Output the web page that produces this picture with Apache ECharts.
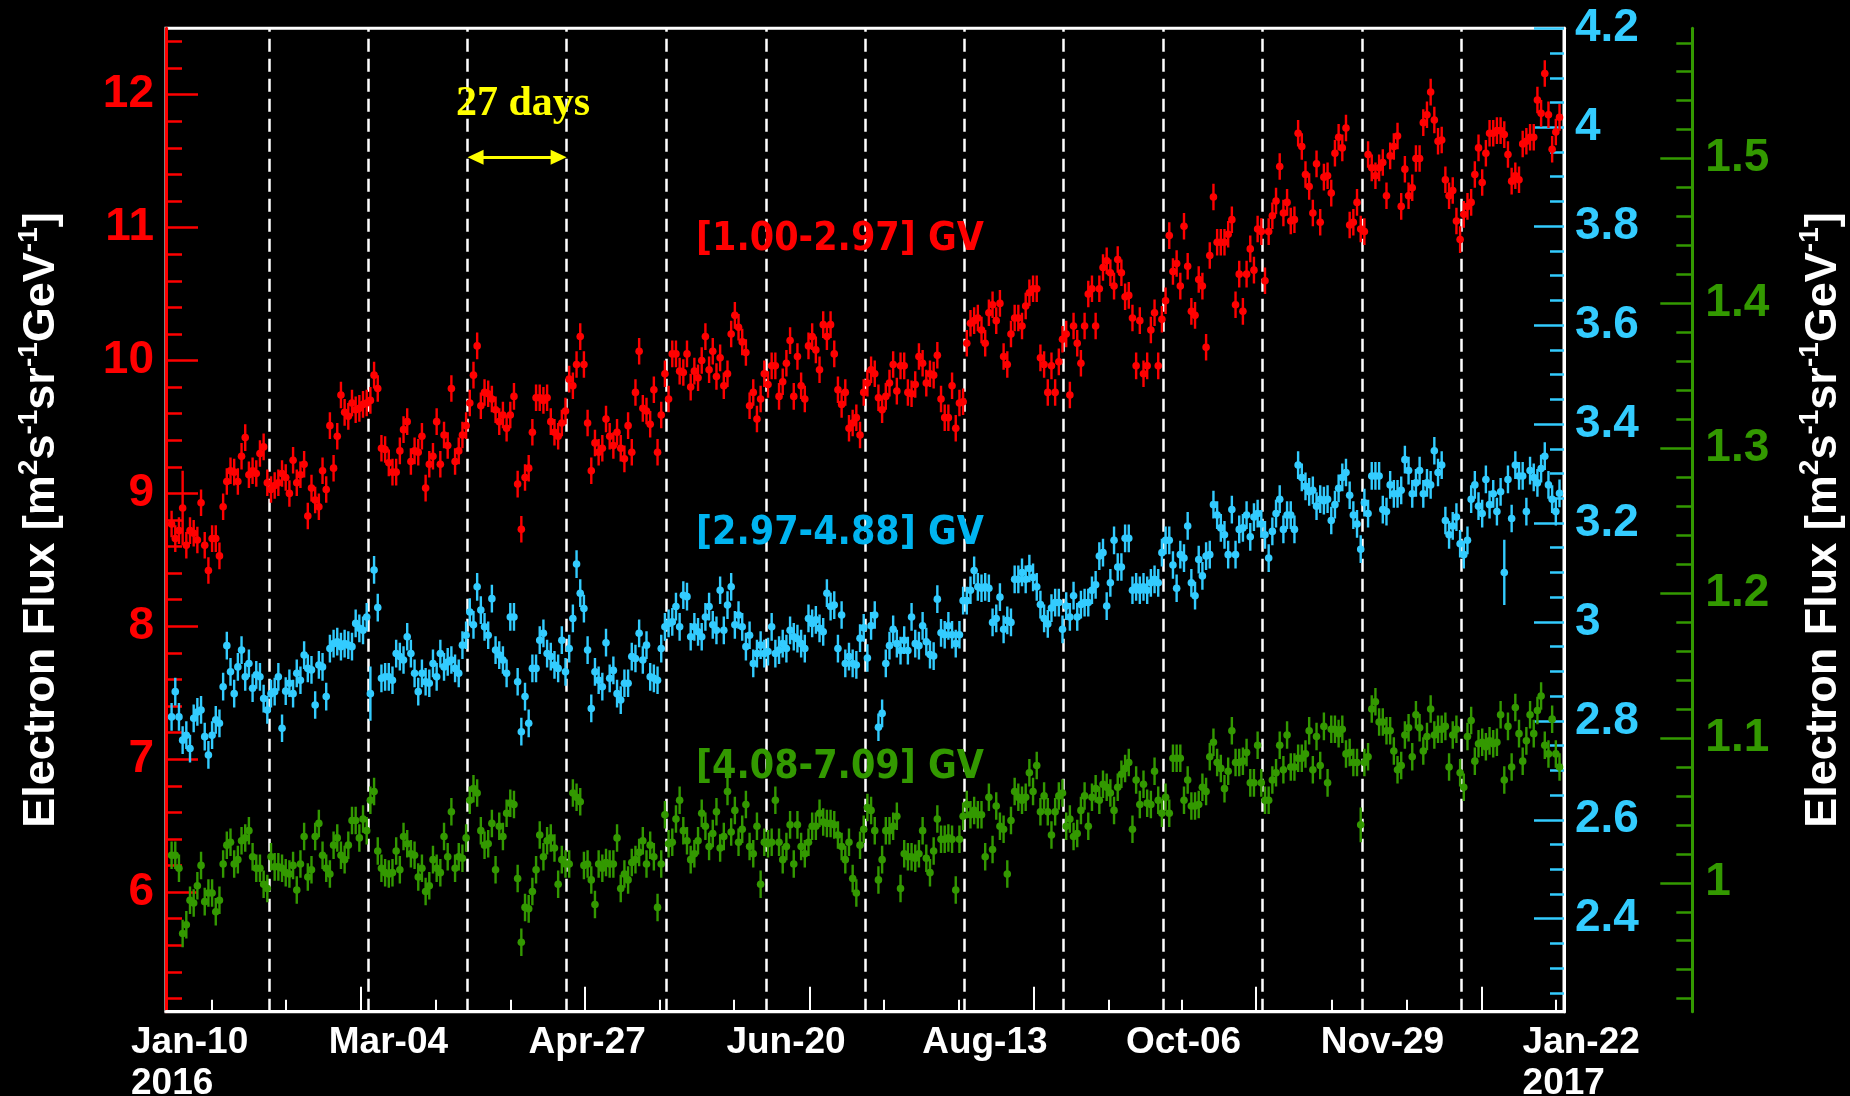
<!DOCTYPE html>
<html><head><meta charset="utf-8">
<script src="https://cdn.jsdelivr.net/npm/echarts@6/dist/echarts.min.js"></script>
<style>html,body{margin:0;padding:0;background:#000}#c{width:1850px;height:1096px}</style>
</head><body><div id="c"></div>
<script>
// ---------------- DATA ----------------
// x values are days counted from 2016-01-10 (the "Jan-10 2016" label); daily points start 2016-01-05
const dayZeroDate = '2016-01-10';
const firstDay = -5;

// [1.00-2.97] GV electron flux (left red axis)
const redFlux = [
8.77,8.66,8.72,8.89,8.61,8.72,8.70,8.65,8.93,8.61,
8.42,8.66,8.66,8.53,8.90,9.09,9.17,9.16,9.09,9.28,
9.42,9.14,9.17,9.15,9.30,9.35,9.08,9.03,9.06,9.08,
9.15,9.12,9.00,9.25,9.08,9.14,9.22,8.83,9.04,8.95,
8.90,9.17,9.03,9.51,9.19,9.43,9.74,9.61,9.58,9.68,
9.63,9.64,9.67,9.68,9.70,9.89,9.79,9.34,9.33,9.23,
9.16,9.16,9.32,9.48,9.54,9.24,9.32,9.31,9.43,9.04,
9.22,9.28,9.54,9.22,9.44,9.36,9.79,9.24,9.32,9.44,
9.51,9.68,9.89,10.11,9.66,9.76,9.75,9.71,9.63,9.54,
9.59,9.49,9.59,9.73,9.07,8.73,9.12,9.19,9.46,9.72,
9.72,9.70,9.72,9.54,9.46,9.43,9.53,9.62,9.86,9.81,
9.97,10.18,9.97,9.53,9.17,9.38,9.31,9.34,9.56,9.43,
9.36,9.46,9.34,9.26,9.51,9.31,9.76,10.07,9.64,9.62,
9.52,9.78,9.31,9.59,9.90,9.71,10.05,10.05,9.92,9.91,
10.05,9.80,9.92,9.87,10.00,10.18,9.93,10.07,9.88,10.02,
9.81,9.90,10.20,10.34,10.25,10.14,10.06,9.66,9.76,9.56,
9.71,9.90,9.82,9.96,9.96,9.73,9.84,9.98,10.15,9.73,
10.03,9.81,9.71,10.11,10.18,10.08,9.93,10.27,10.18,10.27,
10.05,9.78,9.67,9.76,9.49,9.53,9.57,9.44,9.76,9.83,
9.93,9.90,9.72,9.63,9.73,9.83,9.97,9.77,9.96,9.96,
9.76,9.75,9.82,10.03,9.98,9.83,9.90,9.89,10.04,9.71,
9.57,9.57,9.81,9.49,9.68,9.69,10.13,10.28,10.30,10.32,
10.23,10.13,10.36,10.42,10.30,10.43,10.03,9.97,10.20,10.32,
10.32,10.26,10.41,10.51,10.54,10.54,10.02,9.97,9.76,9.96,
9.76,9.99,10.16,10.20,9.74,10.26,10.13,9.98,10.26,10.50,
10.54,10.26,10.54,10.70,10.75,10.66,10.56,10.76,10.66,10.48,
10.49,10.32,9.96,10.30,9.90,9.96,10.23,10.36,9.96,10.31,
10.45,10.94,10.67,10.73,10.56,11.01,10.71,10.37,10.34,10.61,
10.56,10.10,10.79,11.23,10.89,10.89,10.89,10.95,11.06,10.42,
10.65,10.37,10.65,10.84,10.68,10.99,10.97,10.60,10.97,11.09,
11.20,11.46,11.11,11.19,11.05,11.06,11.71,11.61,11.40,11.31,
11.11,11.48,11.04,11.38,11.39,11.26,11.56,11.68,11.60,11.75,
11.02,11.04,11.19,10.99,10.97,11.55,11.45,11.39,11.45,11.49,
11.24,11.54,11.61,11.69,11.16,11.44,11.24,11.30,11.52,11.52,
11.79,11.85,12.02,11.81,11.65,11.66,11.36,11.24,11.28,11.05,
10.91,11.10,11.16,11.19,11.40,11.60,11.34,11.56,11.71,11.71,
11.73,11.73,11.70,11.55,11.35,11.39,11.36,11.63,11.65,11.68,
11.68,11.96,11.86,12.16,11.85,11.59,11.72,11.83];

// [2.97-4.88] GV electron flux (inner right cyan axis)
const cyanFlux = [
2.808,2.859,2.808,2.761,2.771,2.744,2.805,2.818,2.822,2.768,
2.731,2.771,2.802,2.795,2.869,2.952,2.899,2.855,2.909,2.943,
2.889,2.916,2.866,2.893,2.889,2.845,2.822,2.855,2.859,2.889,
2.785,2.860,2.876,2.855,2.896,2.882,2.933,2.906,2.903,2.832,
2.913,2.909,2.849,2.946,2.956,2.960,2.950,2.956,2.953,2.950,
2.997,2.987,2.983,3.010,2.855,3.105,3.029,2.886,2.889,2.889,
2.882,2.936,2.930,2.923,2.970,2.936,2.896,2.859,2.896,2.879,
2.876,2.916,2.889,2.936,2.909,2.919,2.923,2.906,2.896,2.953,
2.973,3.020,2.994,3.071,3.024,2.990,2.973,3.047,2.943,2.933,
2.923,2.896,3.010,3.010,2.879,2.778,2.849,2.795,2.906,2.906,
2.963,2.977,2.936,2.930,2.913,2.906,2.963,2.899,2.946,3.007,
3.117,3.058,3.027,2.943,2.825,2.899,2.882,2.869,2.958,2.886,
2.902,2.855,2.842,2.876,2.876,2.930,2.926,2.977,2.923,2.953,
2.889,2.886,2.882,2.946,2.990,2.997,3.000,3.031,2.990,3.054,
3.051,2.970,2.990,2.980,2.970,3.010,3.031,2.994,2.983,3.064,
2.983,3.034,3.071,2.994,3.014,2.990,2.950,2.973,2.916,2.936,
2.953,2.936,2.940,2.990,2.936,2.943,2.956,2.946,2.983,2.970,
2.966,2.956,2.946,3.007,2.997,3.004,2.987,2.980,3.058,3.031,
3.034,2.946,3.014,2.916,2.930,2.916,2.913,2.967,2.988,2.927,
2.992,3.014,2.787,2.815,2.916,2.952,2.985,2.956,2.942,2.963,
2.942,3.010,2.956,2.952,2.992,2.960,2.934,2.931,3.046,2.978,
2.974,2.992,2.974,2.956,2.974,3.043,3.043,3.064,3.104,3.071,
3.068,3.071,3.068,2.999,3.007,3.050,2.985,3.003,2.999,3.086,
3.086,3.100,3.086,3.108,3.090,3.071,3.035,3.007,2.996,3.028,
3.039,3.039,2.985,3.032,3.010,3.053,3.010,3.035,3.039,3.039,
3.064,3.075,3.133,3.140,3.032,3.079,3.165,3.111,3.111,3.169,
3.169,3.064,3.071,3.064,3.071,3.064,3.079,3.086,3.079,3.140,
3.165,3.165,3.115,3.068,3.136,3.129,3.194,3.079,3.053,3.126,
3.093,3.133,3.136,3.237,3.216,3.190,3.176,3.136,3.227,3.136,
3.187,3.190,3.216,3.172,3.212,3.219,3.198,3.176,3.129,3.183,
3.219,3.248,3.187,3.216,3.216,3.187,3.317,3.292,3.274,3.263,
3.266,3.234,3.248,3.245,3.248,3.205,3.237,3.270,3.292,3.302,
3.256,3.216,3.198,3.147,3.241,3.219,3.295,3.295,3.295,3.227,
3.223,3.277,3.259,3.259,3.266,3.328,3.306,3.259,3.281,3.306,
3.259,3.281,3.277,3.346,3.302,3.317,3.205,3.176,3.194,3.212,
3.158,3.136,3.165,3.248,3.277,3.234,3.219,3.288,3.237,3.259,
3.223,3.263,3.100,3.288,3.209,3.317,3.295,3.295,3.223,3.306,
3.292,3.281,3.310,3.335,3.277,3.248,3.223,3.260];

// [4.08-7.09] GV electron flux (outer right green axis)
const greenFlux = [
1.019,1.019,1.010,0.965,0.971,0.988,0.986,0.998,1.012,0.987,
0.993,0.993,0.980,0.988,1.013,1.026,1.028,1.013,1.016,1.029,
1.031,1.036,1.018,1.010,1.010,0.999,0.996,1.018,1.011,1.011,
1.010,1.007,1.006,1.012,0.995,1.013,1.032,1.004,1.009,1.032,
1.041,1.019,1.010,1.006,1.026,1.031,1.019,1.016,1.026,1.043,
1.043,1.031,1.044,1.036,1.057,1.063,1.022,1.010,1.007,1.006,
1.007,1.022,1.009,1.032,1.027,1.020,1.019,1.004,1.010,0.994,
0.998,1.016,1.010,1.007,1.032,1.018,1.049,1.010,1.018,1.017,
1.031,1.057,1.065,1.062,1.036,1.026,1.027,1.041,1.009,1.039,
1.032,1.048,1.055,1.054,1.003,0.959,0.983,0.982,0.994,1.009,
1.033,1.018,1.029,1.031,1.024,0.999,1.016,1.013,1.013,1.062,
1.059,1.056,1.012,1.013,1.002,0.985,1.013,1.010,1.014,1.013,
1.013,1.031,0.996,1.006,1.002,1.014,1.016,1.021,1.029,1.013,
1.026,1.018,0.983,1.013,1.047,1.027,1.028,1.044,1.057,1.036,
1.029,1.016,1.020,1.029,1.048,1.039,1.025,1.034,1.049,1.024,
1.032,1.063,1.035,1.050,1.028,1.037,1.054,1.025,1.020,1.039,
0.999,1.028,1.027,1.028,1.057,1.028,1.016,1.025,1.040,1.013,
1.040,1.025,1.020,1.028,1.039,1.039,1.048,1.042,1.041,1.041,
1.040,1.033,1.025,1.016,1.028,1.003,0.993,1.026,1.037,1.052,
1.050,1.036,1.002,1.016,1.036,1.036,1.039,1.046,0.996,1.020,
1.018,1.018,1.017,1.020,1.036,1.017,1.007,1.022,1.044,1.030,
1.030,1.031,1.030,0.995,1.030,1.046,1.054,1.047,1.050,1.047,
1.047,1.018,1.059,1.023,1.053,1.039,1.037,1.006,1.043,1.063,
1.059,1.057,1.059,1.076,1.063,1.081,1.049,1.060,1.049,1.033,
1.049,1.060,1.062,1.039,1.044,1.032,1.034,1.050,1.060,1.039,
1.059,1.065,1.057,1.068,1.066,1.062,1.050,1.066,1.075,1.079,
1.083,1.037,1.071,1.054,1.068,1.055,1.054,1.077,1.057,1.048,
1.059,1.048,1.086,1.086,1.086,1.057,1.071,1.053,1.053,1.054,
1.066,1.063,1.087,1.097,1.083,1.079,1.065,1.077,1.105,1.083,
1.083,1.084,1.090,1.069,1.069,1.095,1.069,1.057,1.057,1.071,
1.076,1.095,1.078,1.102,1.080,1.080,1.086,1.086,1.089,1.105,
1.078,1.101,1.081,1.108,1.069,1.106,1.106,1.103,1.106,1.089,
1.090,1.083,1.083,1.040,1.083,1.087,1.120,1.125,1.111,1.111,
1.105,1.105,1.091,1.078,1.081,1.102,1.107,1.087,1.116,1.107,
1.091,1.101,1.120,1.102,1.106,1.106,1.108,1.080,1.102,1.106,
1.076,1.066,1.101,1.112,1.084,1.096,1.097,1.094,1.098,1.096,
1.097,1.116,1.071,1.108,1.080,1.121,1.103,1.084,1.098,1.116,
1.103,1.119,1.129,1.095,1.089,1.113,1.089,1.080];

// typical statistical errors, plus the few visibly larger ones [day, error]
const redErr = 0.10, cyanErr = 0.028, greenErr = 0.0095;
const redWideErr = [[-2, 0.28]];
const cyanWideErr = [[49, 0.055], [357, 0.066]];
const greenWideErr = [[318, 0.012]];

// axes
const xRange = [-6.52, 373.22];
const labelAxisMax = 382;
const xLabelDays = [0, 54, 108, 162, 216, 270, 324, 378];
const xLabelTexts = ['Jan-10\n2016', 'Mar-04', 'Apr-27', 'Jun-20', 'Aug-13', 'Oct-06', 'Nov-29', 'Jan-22\n2017'];
const xMajorTickDays = [46.5, 107.3, 168.4, 229.1, 289.6, 350.8];
const xMinorTickDays = [6.0, 26.1, 66.8, 87.0, 127.6, 147.8, 188.4, 208.7, 249.5, 269.4, 310.0, 330.4, 371.0];
const rotationStartDays = [21.5, 48.5, 75.4, 102.3, 129.4, 156.4, 183.3, 210.3, 237.3, 264.3, 291.3, 318.3, 345.3];

const redRange = [5.1, 12.5];
const cyanRange = [2.212, 4.2];
const greenRange = [0.911, 1.590];
const redTicks = [6, 7, 8, 9, 10, 11, 12];
const cyanTicks = [2.4, 2.6, 2.8, 3, 3.2, 3.4, 3.6, 3.8, 4, 4.2];
const greenTicks = [1, 1.1, 1.2, 1.3, 1.4, 1.5];

const seriesNames = ['[1.00-2.97] GV', '[2.97-4.88] GV', '[4.08-7.09] GV'];
const periodText = '27 days';
const arrowLevel = 11.53; // in red-axis units

// ---------------- STYLE / LAYOUT ----------------
const RED = '#ff0000', CYAN = '#33ccff', CYAN_TXT = '#00b4f0', GREEN = '#339900', YEL = '#ffff00';
const gridLeft = 166, gridTop = 28.3, gridW = 1398, gridH = 983.4;
const pxPerDay = gridW / (xRange[1] - xRange[0]);
const tickFont = 'Liberation Sans';
const xFont = '"Liberation Sans", Arial, sans-serif';
const xFontSize = 37;
const annFont = 'bold 39px "DejaVu Sans Condensed", "DejaVu Sans", sans-serif';

const chart = echarts.init(document.getElementById('c'), null, {renderer: 'canvas', width: 1850, height: 1096});

function errSeries(name, values, err, wide, color, yAxisIndex) {
  const wideMap = new Map(wide);
  const data = [];
  values.forEach((v, i) => {
    if (v == null) return;
    const d = firstDay + i;
    data.push([d, v, wideMap.has(d) ? wideMap.get(d) : err]);
  });
  return {
    type: 'custom', name, xAxisIndex: 0, yAxisIndex, data, clip: true, silent: true, z: 5,
    encode: {x: 0, y: 1},
    renderItem(params, api) {
      const x = api.value(0), y = api.value(1), e = api.value(2);
      const c = api.coord([x, y]);
      const lo = api.coord([x, y - e]);
      const hi = api.coord([x, y + e]);
      return {type: 'group', children: [
        {type: 'line', shape: {x1: c[0], y1: lo[1], x2: c[0], y2: hi[1]}, style: {stroke: color, lineWidth: 2.4}},
        {type: 'circle', shape: {cx: c[0], cy: c[1], r: 3.8}, style: {fill: color}}
      ]};
    }
  };
}

// measure label widths so that two-line labels are left-aligned blocks
const mctx = document.createElement('canvas').getContext('2d');
mctx.font = 'bold ' + xFontSize + 'px ' + xFont;
const xRich = {};
xLabelTexts.forEach((t, i) => {
  const w = Math.ceil(mctx.measureText(t.split('\n')[0]).width);
  xRich['l' + i] = {width: w, align: 'left', color: '#fff', fontFamily: xFont, fontWeight: 'bold', fontSize: xFontSize, lineHeight: 41};
});

const titleRich = {
  n: {color: '#fff', fontFamily: tickFont, fontWeight: 'bold', fontSize: 45, lineHeight: 54, verticalAlign: 'middle'},
  s: {color: '#fff', fontFamily: tickFont, fontWeight: 'bold', fontSize: 28, lineHeight: 29, verticalAlign: 'top'}
};
const axisTitle = '{n|Electron Flux [m}{s|2}{n|s}{s|-1}{n|sr}{s|-1}{n|GeV}{s|-1}{n|]}';

function yAxisCfg(opts) {
  return Object.assign({gridIndex: 0, type: 'value', splitLine: {show: false}, scale: false}, opts);
}

const arrowInset = 8 / pxPerDay;

const option = {
  backgroundColor: '#000',
  animation: false,
  grid: [
    {left: gridLeft, top: gridTop, width: gridW, height: gridH, show: true, borderColor: '#fff', borderWidth: 3,
     backgroundColor: 'transparent', containLabel: false, outerBoundsMode: 'none'},
    {left: gridLeft, top: gridTop, width: (labelAxisMax - xRange[0]) * pxPerDay, height: gridH, show: false,
     containLabel: false, outerBoundsMode: 'none'}
  ],
  xAxis: [
    {gridIndex: 0, type: 'value', position: 'bottom', min: xRange[0], max: xRange[1],
     axisLine: {show: true, onZero: false, lineStyle: {color: '#fff', width: 3}},
     axisTick: {show: true, inside: true, length: 12, customValues: xMinorTickDays, lineStyle: {color: '#fff', width: 2}},
     axisLabel: {show: false}, splitLine: {show: false}},
    {gridIndex: 0, type: 'value', position: 'bottom', min: xRange[0], max: xRange[1],
     axisLine: {show: false, onZero: false},
     axisTick: {show: true, inside: true, length: 25, customValues: xMajorTickDays, lineStyle: {color: '#fff', width: 2}},
     axisLabel: {show: false}, splitLine: {show: false}},
    {gridIndex: 1, type: 'value', position: 'bottom', min: xRange[0], max: labelAxisMax,
     axisLine: {show: false, onZero: false}, axisTick: {show: false}, splitLine: {show: false},
     axisLabel: {
       show: true, customValues: xLabelDays, margin: 11, rich: xRich,
       formatter: (val) => {
         const i = xLabelDays.indexOf(Math.round(val));
         if (i < 0) return '';
         return xLabelTexts[i].split('\n').map(s => '{l' + i + '|' + s + '}').join('\n');
       }
     }}
  ],
  yAxis: [
    yAxisCfg({position: 'left', min: redRange[0], max: redRange[1], minInterval: 1, maxInterval: 1,
      axisLine: {show: true, onZero: false, lineStyle: {color: RED, width: 3}},
      axisTick: {show: true, inside: true, length: 32, customValues: redTicks, lineStyle: {color: RED, width: 2.5}},
      minorTick: {show: true, splitNumber: 5, length: 16, lineStyle: {color: RED, width: 2.5}},
      axisLabel: {customValues: redTicks, color: RED, fontFamily: tickFont, fontWeight: 'bold', fontSize: 46, margin: 12},
      name: axisTitle, nameLocation: 'middle', nameRotate: 90, nameGap: 97,
      nameTextStyle: {rich: titleRich}}),
    yAxisCfg({position: 'right', offset: 0, min: cyanRange[0], max: cyanRange[1], minInterval: 0.2, maxInterval: 0.2,
      axisLine: {show: true, onZero: false, lineStyle: {color: '#fff', width: 3}},
      axisTick: {show: true, inside: true, length: 30, customValues: cyanTicks, lineStyle: {color: CYAN, width: 2.5}},
      minorTick: {show: true, splitNumber: 4, length: 14, lineStyle: {color: CYAN, width: 2.5}},
      axisLabel: {customValues: cyanTicks, color: CYAN, fontFamily: tickFont, fontWeight: 'bold', fontSize: 46, margin: 11}}),
    yAxisCfg({position: 'right', offset: 128.3, min: greenRange[0], max: greenRange[1], minInterval: 0.1, maxInterval: 0.1,
      axisLine: {show: true, onZero: false, lineStyle: {color: GREEN, width: 3}},
      axisTick: {show: true, inside: true, length: 32, customValues: greenTicks, lineStyle: {color: GREEN, width: 2.5}},
      minorTick: {show: true, splitNumber: 5, length: 16, lineStyle: {color: GREEN, width: 2.5}},
      axisLabel: {customValues: greenTicks, color: GREEN, fontFamily: tickFont, fontWeight: 'bold', fontSize: 46, margin: 13},
      name: axisTitle, nameLocation: 'middle', nameRotate: 90, nameGap: 104,
      nameTextStyle: {rich: titleRich}}),
    {gridIndex: 1, type: 'value', show: false}
  ],
  series: [
    {type: 'line', name: 'rotations', xAxisIndex: 0, yAxisIndex: 0, data: [], silent: true, z: 2,
     markLine: {silent: true, symbol: 'none', animation: false, label: {show: false},
       lineStyle: {color: '#fff', width: 2.5, type: [13, 7]},
       data: rotationStartDays.map(d => ({xAxis: d}))}},
    {type: 'line', name: 'period', xAxisIndex: 0, yAxisIndex: 0, data: [], silent: true, z: 6,
     markLine: {silent: true, animation: false, label: {show: false},
       symbol: ['triangle', 'triangle'], symbolSize: [15, 16],
       lineStyle: {color: YEL, width: 3, type: 'solid'},
       data: [[{coord: [rotationStartDays[2] + arrowInset, arrowLevel]}, {coord: [rotationStartDays[3] - arrowInset, arrowLevel]}]]}},
    errSeries(seriesNames[2], greenFlux, greenErr, greenWideErr, GREEN, 2),
    errSeries(seriesNames[1], cyanFlux, cyanErr, cyanWideErr, CYAN, 1),
    errSeries(seriesNames[0], redFlux, redErr, redWideErr, RED, 0)
  ],
  graphic: [
    {type: 'text', x: 523, y: 104.5, z: 10, style: {text: periodText, fill: YEL, font: 'bold 42px "Liberation Serif", serif', align: 'center', verticalAlign: 'middle'}},
    {type: 'text', x: 696, y: 240, z: 10, style: {text: seriesNames[0], fill: RED, font: annFont, align: 'left', verticalAlign: 'middle'}},
    {type: 'text', x: 696, y: 534, z: 10, style: {text: seriesNames[1], fill: CYAN_TXT, font: annFont, align: 'left', verticalAlign: 'middle'}},
    {type: 'text', x: 696, y: 768, z: 10, style: {text: seriesNames[2], fill: GREEN, font: annFont, align: 'left', verticalAlign: 'middle'}}
  ]
};
chart.setOption(option);
</script></body></html>
